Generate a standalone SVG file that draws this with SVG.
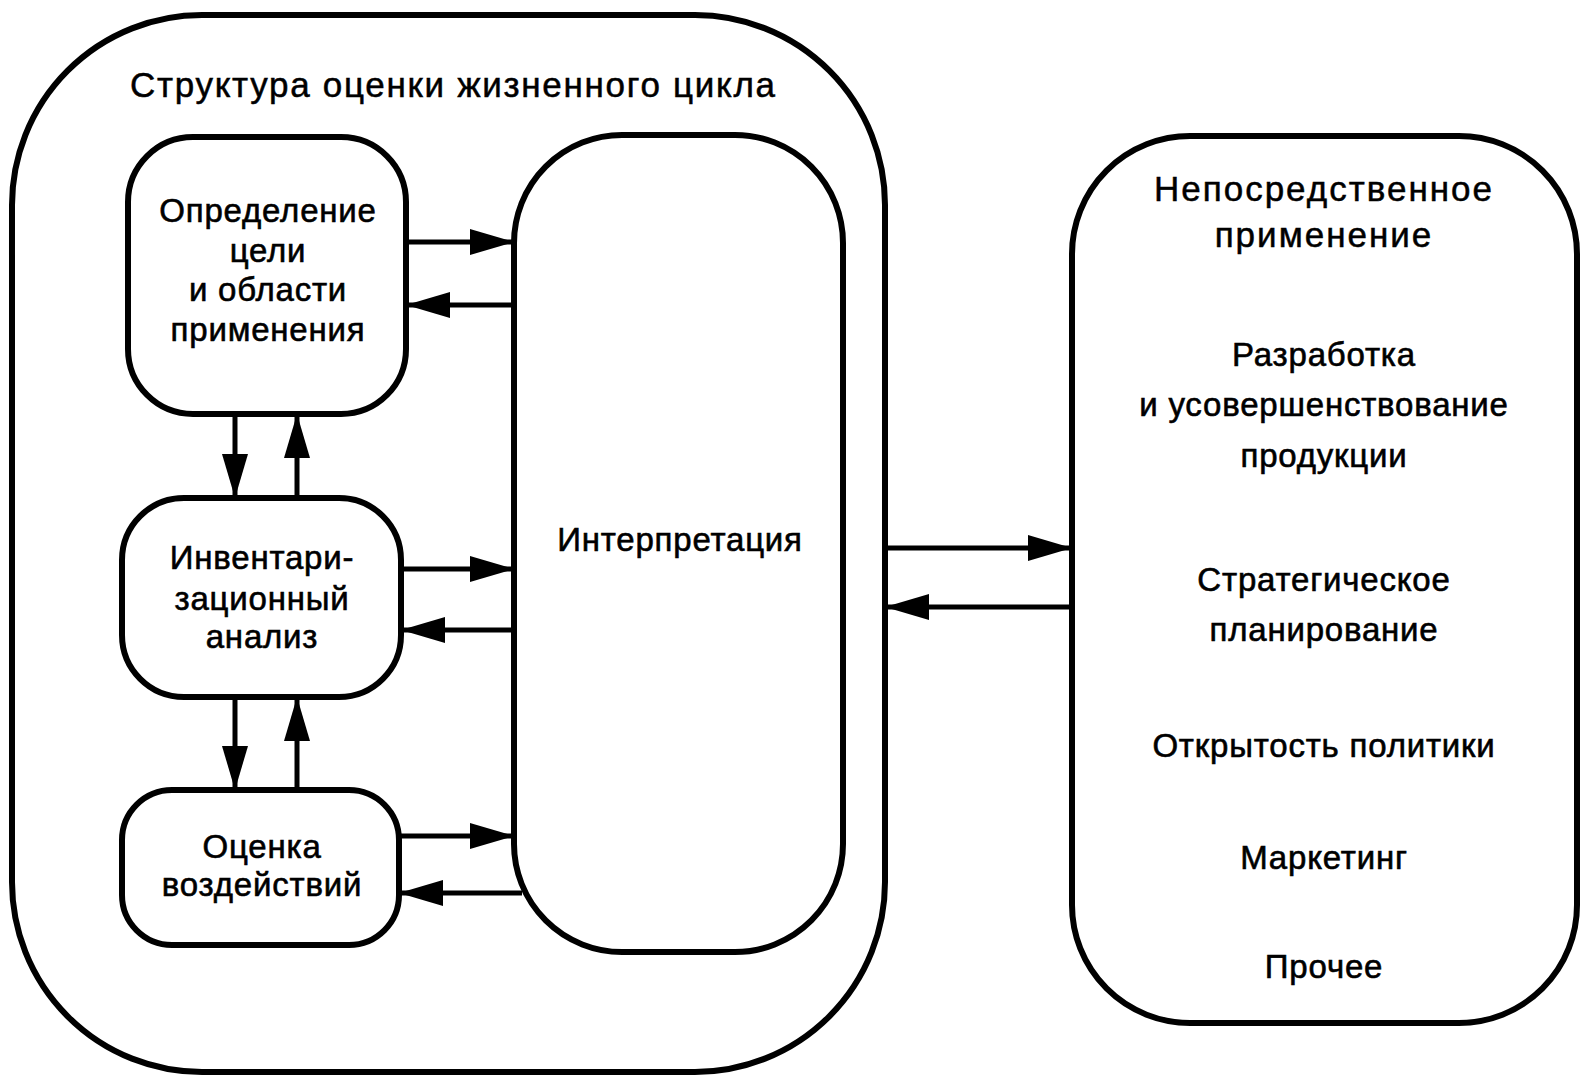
<svg xmlns="http://www.w3.org/2000/svg" width="1588" height="1085" viewBox="0 0 1588 1085">
<defs>
<style>
.box{fill:none;stroke:#000;stroke-width:6}
.ln{fill:none;stroke:#000;stroke-width:5}
.t{font-family:"Liberation Sans",Arial,sans-serif;font-size:33px;fill:#000;stroke:#000;stroke-width:0.6;text-anchor:middle;letter-spacing:0.8px}
.tl{font-family:"Liberation Sans",Arial,sans-serif;font-size:35px;fill:#000;stroke:#000;stroke-width:0.5;letter-spacing:1.7px}
.th{font-family:"Liberation Sans",Arial,sans-serif;font-size:35px;fill:#000;stroke:#000;stroke-width:0.5;text-anchor:middle;letter-spacing:2px}
</style>
<marker id="ah" viewBox="0 0 44 26" refX="44" refY="13" markerWidth="44" markerHeight="26" markerUnits="userSpaceOnUse" orient="auto">
<path d="M0,0 L44,13 L0,26 Z" fill="#000"/>
</marker>
</defs>
<rect width="1588" height="1085" fill="#fff"/>
<g id="lca">
<rect class="box" x="12" y="15" width="873" height="1057" rx="190" ry="190"/>
<text class="tl" x="130" y="97">Структура оценки жизненного цикла</text>
</g>
<g id="goal">
<rect class="box" x="128" y="137" width="278" height="277" rx="65" ry="65"/>
<text class="t" x="268" y="222">Определение</text>
<text class="t" x="268" y="262">цели</text>
<text class="t" x="268" y="301">и области</text>
<text class="t" x="268" y="341">применения</text>
</g>
<g id="inventory">
<rect class="box" x="122" y="498" width="279" height="199" rx="62" ry="62"/>
<text class="t" x="262" y="569">Инвентари-</text>
<text class="t" x="262" y="610">зационный</text>
<text class="t" x="262" y="648">анализ</text>
</g>
<g id="impact">
<rect class="box" x="122" y="790" width="277" height="155" rx="50" ry="50"/>
<text class="t" x="262" y="858">Оценка</text>
<text class="t" x="262" y="896">воздействий</text>
</g>
<g id="interp">
<rect class="box" x="514" y="135" width="329" height="817" rx="108" ry="108"/>
<text class="t" x="680" y="551">Интерпретация</text>
</g>
<g id="apps">
<rect class="box" x="1072" y="136" width="505" height="887" rx="118" ry="118"/>
<text class="th" x="1324" y="201">Непосредственное</text>
<text class="th" x="1324" y="247">применение</text>
<text class="t" x="1324" y="366">Разработка</text>
<text class="t" x="1324" y="416">и усовершенствование</text>
<text class="t" x="1324" y="467">продукции</text>
<text class="t" x="1324" y="591">Стратегическое</text>
<text class="t" x="1324" y="641">планирование</text>
<text class="t" x="1324" y="757">Открытость политики</text>
<text class="t" x="1324" y="869">Маркетинг</text>
<text class="t" x="1324" y="978">Прочее</text>
</g>
<g id="connectors">
<line class="ln" x1="406" y1="242" x2="514" y2="242" marker-end="url(#ah)"/>
<line class="ln" x1="514" y1="305" x2="406" y2="305" marker-end="url(#ah)"/>
<line class="ln" x1="235" y1="414" x2="235" y2="498" marker-end="url(#ah)"/>
<line class="ln" x1="297" y1="498" x2="297" y2="414" marker-end="url(#ah)"/>
<line class="ln" x1="401" y1="569" x2="514" y2="569" marker-end="url(#ah)"/>
<line class="ln" x1="514" y1="630" x2="401" y2="630" marker-end="url(#ah)"/>
<line class="ln" x1="235" y1="697" x2="235" y2="790" marker-end="url(#ah)"/>
<line class="ln" x1="297" y1="790" x2="297" y2="697" marker-end="url(#ah)"/>
<line class="ln" x1="399" y1="836" x2="514" y2="836" marker-end="url(#ah)"/>
<line class="ln" x1="522" y1="893" x2="399" y2="893" marker-end="url(#ah)"/>
<line class="ln" x1="885" y1="548" x2="1072" y2="548" marker-end="url(#ah)"/>
<line class="ln" x1="1072" y1="607" x2="885" y2="607" marker-end="url(#ah)"/>
</g>
</svg>
